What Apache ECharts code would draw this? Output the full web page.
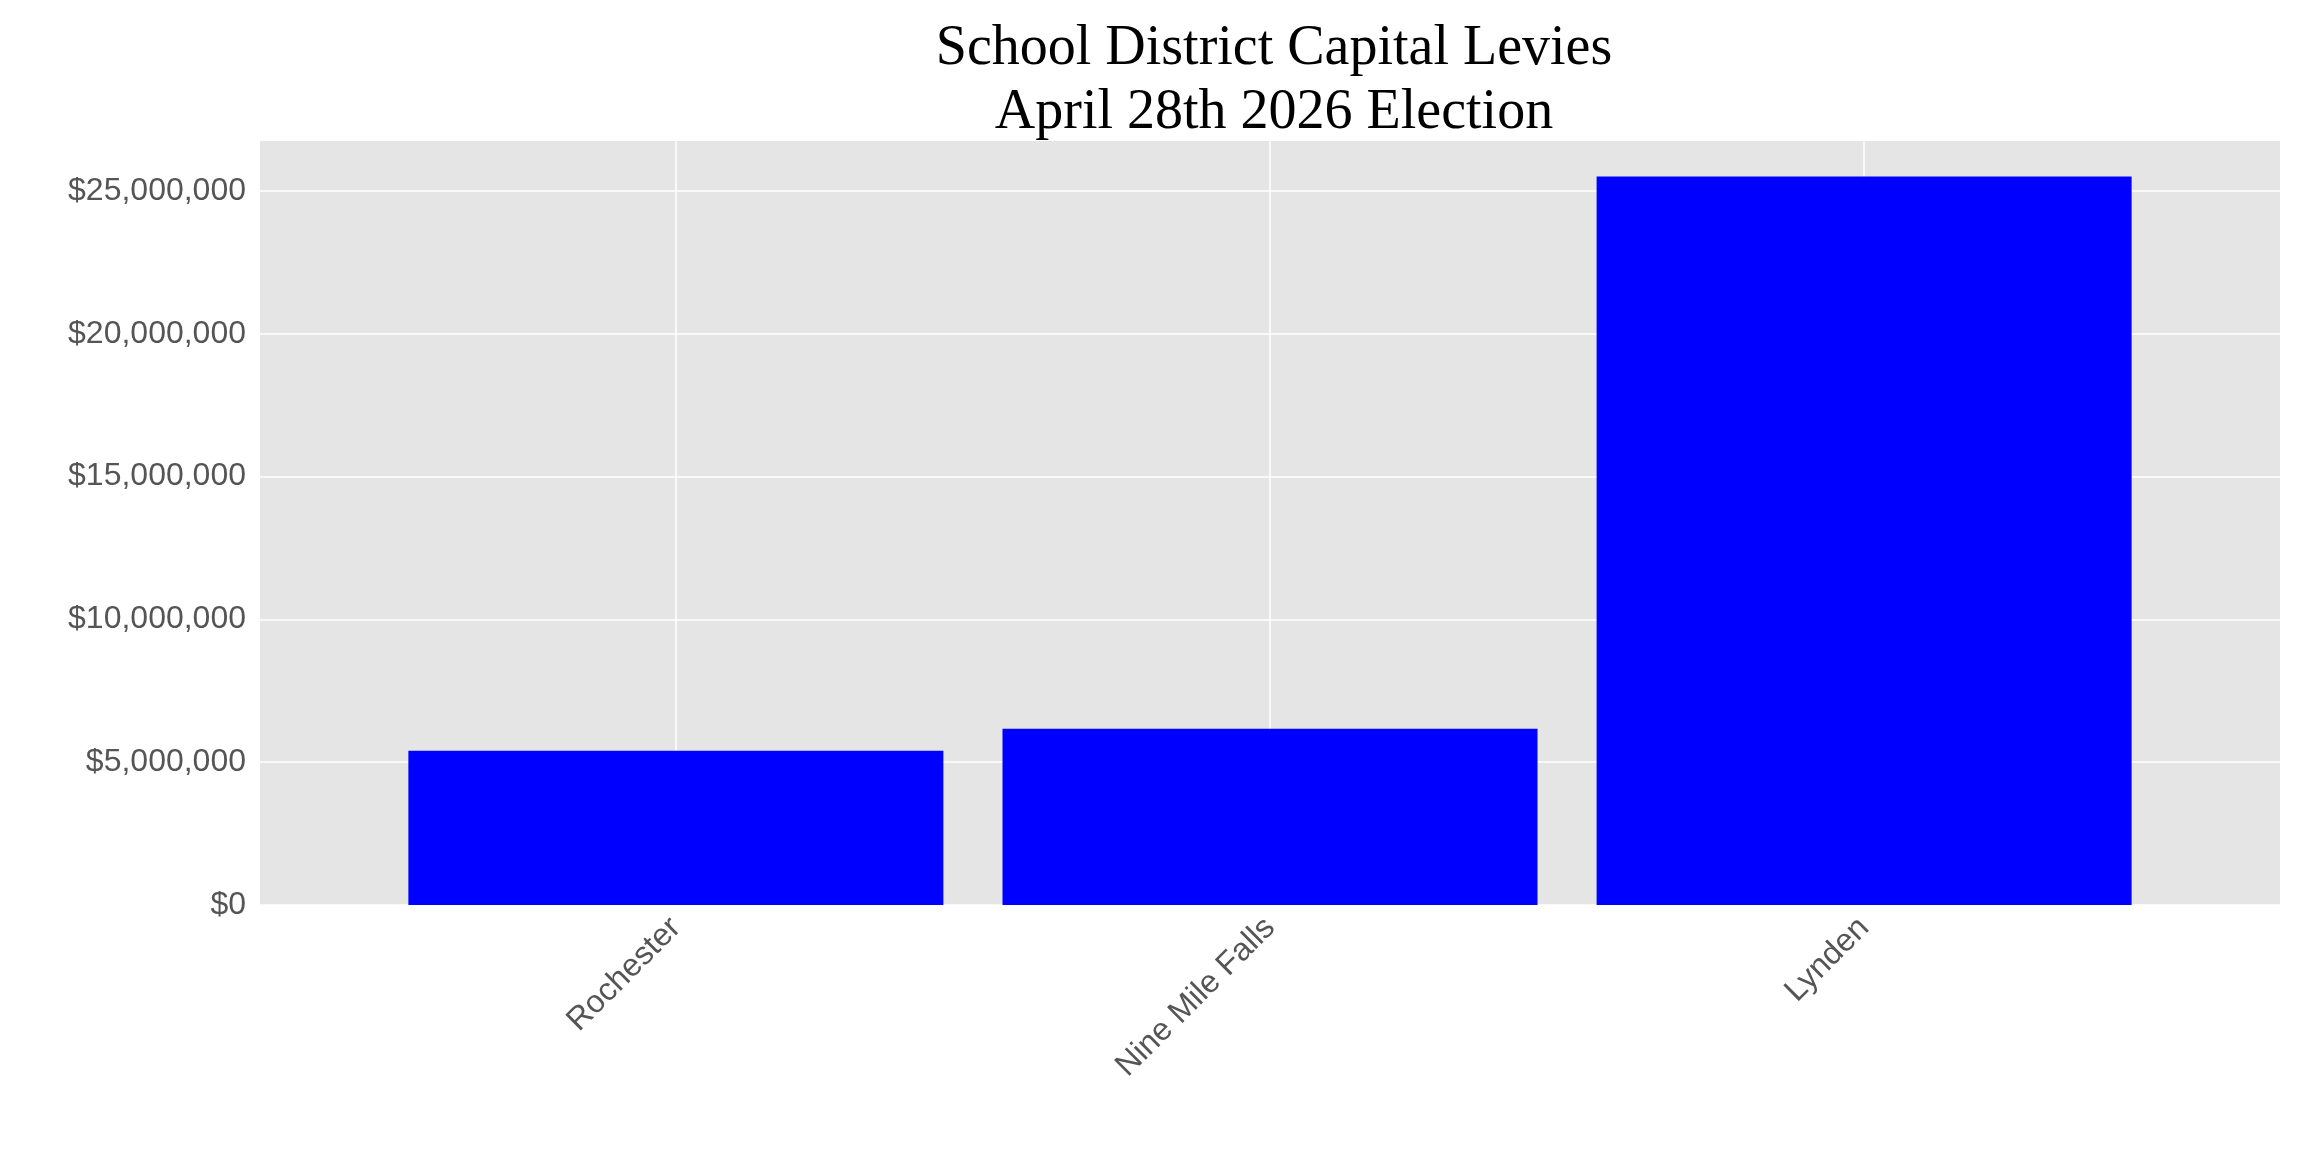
<!DOCTYPE html>
<html><head><meta charset="utf-8">
<script src="https://cdn.jsdelivr.net/npm/echarts@6/dist/echarts.min.js"></script>
<style>html,body{margin:0;padding:0;background:#fff}#c{width:2304px;height:1152px}</style>
</head><body><div id="c"></div>
<script>
const categories = ["Rochester", "Nine Mile Falls", "Lynden"];
const levies = [5400000, 6170000, 25510000];
const yTicks = [0, 5000000, 10000000, 15000000, 20000000, 25000000];

const chart = echarts.init(document.getElementById('c'));
const fmt = v => '$' + Math.round(v).toLocaleString('en-US');
chart.setOption({
  backgroundColor: '#fff',
  title: {
    text: 'School District Capital Levies\nApril 28th 2026 Election',
    left: 1269, top: 12, textAlign: 'center',
    textStyle: {fontFamily: 'Liberation Serif', fontSize: 56, fontWeight: 'normal', color: '#000', lineHeight: 64}
  },
  grid: {left: 260, right: 24, top: 141, bottom: 247, show: true, backgroundColor: '#e5e5e5', borderWidth: 0},
  xAxis: {
    type: 'value', min: -0.7, max: 2.7,
    axisLine: {show: false}, axisTick: {show: false, customValues: [0,1,2]},
    axisLabel: {customValues: [0,1,2], formatter: v => categories[Math.round(v)], rotate: 45,
      fontFamily: 'Liberation Sans', fontSize: 32, color: '#555', margin: 18},
    splitLine: {show: true, lineStyle: {color: '#fff', width: 1.5}}
  },
  yAxis: {
    type: 'value', min: 0, max: 26750000,
    axisLine: {show: false}, axisTick: {show: false, customValues: yTicks},
    axisLabel: {customValues: yTicks, formatter: fmt, fontFamily: 'Liberation Sans', fontSize: 32, color: '#555', margin: 14},
    splitLine: {show: true, lineStyle: {color: '#fff', width: 1.5}}
  },
  series: [{
    type: 'bar', barWidth: 535, itemStyle: {color: '#0000ff'},
    data: levies.map((v, i) => [i, v]), animation: false
  }]
});
</script></body></html>
